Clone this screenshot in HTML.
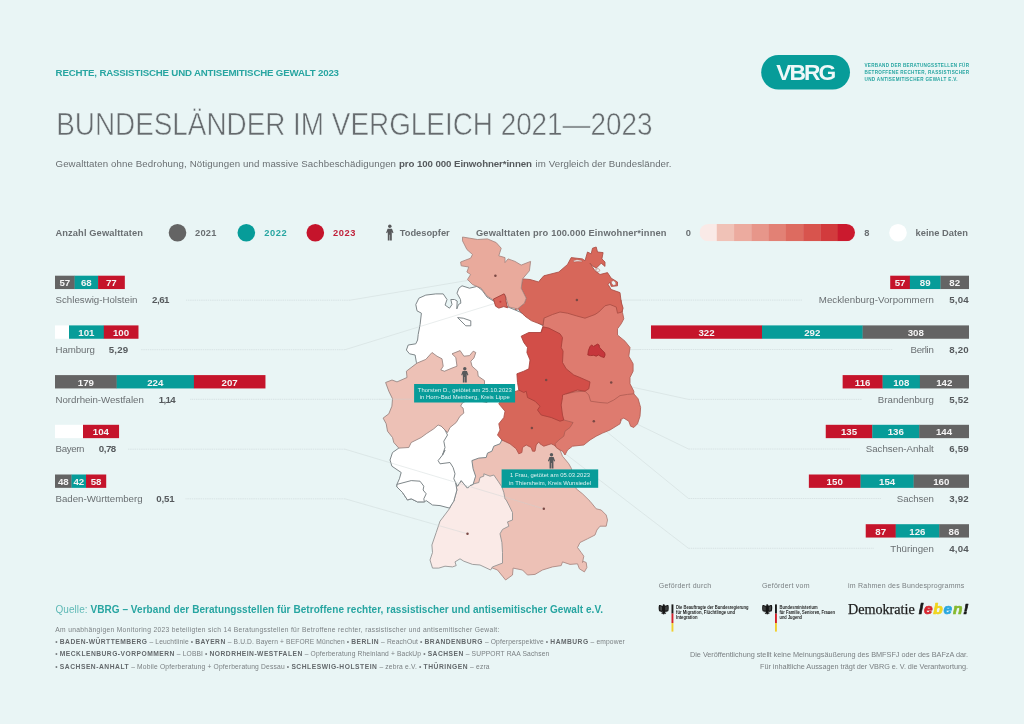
<!DOCTYPE html>
<html lang="de">
<head>
<meta charset="utf-8">
<title>Bundesländer im Vergleich 2021—2023</title>
<style>
html,body{margin:0;padding:0;background:#e9f5f5;}
body{width:1024px;height:724px;overflow:hidden;font-family:'Liberation Sans', sans-serif;}
svg{display:block;font-family:'Liberation Sans', sans-serif;}
text{white-space:pre;}
</style>
</head>
<body>
<svg width="1024" height="724" viewBox="0 0 1024 724">
<rect width="1024" height="724" fill="#e9f5f5"/>
<text x="55.60" y="75.90" font-size="9.7" font-weight="700" fill="#27a5a1" textLength="283.40" lengthAdjust="spacing">RECHTE, RASSISTISCHE UND ANTISEMITISCHE GEWALT 2023</text>
<text x="56.20" y="135.00" font-size="30.5" font-weight="400" fill="#666b6e" textLength="596.30" lengthAdjust="spacingAndGlyphs" stroke="#e9f5f5" stroke-width="0.55">BUNDESLÄNDER IM VERGLEICH 2021—2023</text>
<text x="55.50" y="167.00" font-size="9.7" font-weight="400" fill="#6a6f72" textLength="340.50" lengthAdjust="spacing">Gewalttaten ohne Bedrohung, Nötigungen und massive Sachbeschädigungen</text>
<text x="399.00" y="167.00" font-size="9.7" font-weight="700" fill="#565a5d" textLength="133.00" lengthAdjust="spacing">pro 100 000 Einwohner*innen</text>
<text x="535.60" y="167.00" font-size="9.7" font-weight="400" fill="#6a6f72" textLength="135.90" lengthAdjust="spacing">im Vergleich der Bundesländer.</text>
<rect x="761.2" y="55" width="88.8" height="34.5" rx="17.25" fill="#079c99"/>
<text x="776.30" y="80.40" font-size="22.8" font-weight="700" fill="#eef8f8" textLength="60.00" lengthAdjust="spacing">VBRG</text>
<text x="864.50" y="67.00" font-size="4.6" font-weight="700" fill="#27a5a1" textLength="104.50" lengthAdjust="spacing">VERBAND DER BERATUNGSSTELLEN FÜR</text>
<text x="864.50" y="73.75" font-size="4.6" font-weight="700" fill="#27a5a1" textLength="104.50" lengthAdjust="spacing">BETROFFENE RECHTER, RASSISTISCHER</text>
<text x="864.50" y="80.50" font-size="4.6" font-weight="700" fill="#27a5a1" textLength="93.00" lengthAdjust="spacing">UND ANTISEMITISCHER GEWALT E.V.</text>
<text x="55.50" y="236.00" font-size="9.3" font-weight="700" fill="#6a6f72" textLength="87.50" lengthAdjust="spacing">Anzahl Gewalttaten</text>
<circle cx="177.5" cy="232.7" r="8.8" fill="#646464"/>
<text x="195.00" y="236.00" font-size="9.3" font-weight="700" fill="#6a6f72" textLength="21.30" lengthAdjust="spacing">2021</text>
<circle cx="246.3" cy="232.7" r="8.8" fill="#079c99"/>
<text x="264.20" y="236.00" font-size="9.3" font-weight="700" fill="#27a5a1" textLength="22.50" lengthAdjust="spacing">2022</text>
<circle cx="315.3" cy="232.7" r="8.8" fill="#c5142b"/>
<text x="333.00" y="236.00" font-size="9.3" font-weight="700" fill="#c0203a" textLength="22.50" lengthAdjust="spacing">2023</text>
<g transform="translate(389.80,224.50) scale(1.000)" fill="#58595b"><circle cx="0" cy="1.75" r="1.75"/><path d="M-2.2,4.2 L2.2,4.2 L3.7,8.3 L2.7,8.7 L2.0,6.9 L2.0,16 L0.25,16 L0.25,10.2 L-0.25,10.2 L-0.25,16 L-2.0,16 L-2.0,6.9 L-2.7,8.7 L-3.7,8.3 Z"/></g>
<text x="399.70" y="236.00" font-size="9.3" font-weight="700" fill="#6a6f72" textLength="50.00" lengthAdjust="spacing">Todesopfer</text>
<text x="476.00" y="236.00" font-size="9.3" font-weight="700" fill="#6a6f72" textLength="190.50" lengthAdjust="spacing">Gewalttaten pro 100.000 Einwohner*innen</text>
<text x="685.70" y="236.00" font-size="9.3" font-weight="700" fill="#6a6f72">0</text>
<clipPath id="gc"><rect x="699.5" y="224" width="155.5" height="17.2" rx="8.6"/></clipPath>
<g clip-path="url(#gc)">
<rect x="699.50" y="224" width="17.58" height="17.2" fill="#faeae7"/>
<rect x="716.78" y="224" width="17.58" height="17.2" fill="#f0c2b7"/>
<rect x="734.06" y="224" width="17.58" height="17.2" fill="#ecab9f"/>
<rect x="751.33" y="224" width="17.58" height="17.2" fill="#e7968a"/>
<rect x="768.61" y="224" width="17.58" height="17.2" fill="#e28175"/>
<rect x="785.89" y="224" width="17.58" height="17.2" fill="#dd6b60"/>
<rect x="803.17" y="224" width="17.58" height="17.2" fill="#d8544d"/>
<rect x="820.44" y="224" width="17.58" height="17.2" fill="#d23b3d"/>
<rect x="837.72" y="224" width="17.58" height="17.2" fill="#cb1a2e"/>
</g>
<text x="864.20" y="236.00" font-size="9.3" font-weight="700" fill="#6a6f72">8</text>
<circle cx="898" cy="232.7" r="8.8" fill="#ffffff"/>
<text x="915.50" y="236.00" font-size="9.3" font-weight="700" fill="#6a6f72" textLength="52.50" lengthAdjust="spacing">keine Daten</text>
<g id="map-light">
<path d="M473.8,483.8 466.0,470.0 468.0,452.0 500.0,425.0 545.0,432.0 560.0,440.0 560.0,450.0 562.5,456.2 568.8,463.8 571.2,468.1 576.2,488.8 582.5,493.8 590.0,501.2 596.2,508.8 601.2,510.0 606.2,515.0 607.5,520.0 606.2,526.2 600.0,526.2 596.9,530.0 595.0,535.0 587.5,538.8 580.0,542.5 577.5,547.5 581.2,552.5 583.8,556.2 582.5,562.5 583.1,561.2 586.2,562.5 586.9,567.5 584.4,571.9 579.4,568.8 577.5,563.8 570.0,564.4 562.5,561.9 561.2,565.6 552.5,566.9 542.5,570.0 535.0,574.4 527.5,575.0 522.5,570.0 513.1,568.1 512.5,575.0 505.6,580.0 502.5,576.2 497.5,570.0 491.2,567.5 492.5,566.9 496.0,560.0 490.0,520.0 480.0,495.0Z" fill="#edc1b6" stroke="#a8857f" stroke-width="0.85" stroke-linejoin="round"/>
<path d="M473.8,483.8 478.8,482.5 480.0,477.5 483.8,476.2 483.8,473.8 490.0,476.2 493.8,475.0 498.1,481.2 501.9,486.9 503.8,492.5 505.0,498.8 506.2,500.0 508.8,505.0 512.5,512.5 512.5,520.0 507.5,521.9 508.8,526.2 502.5,529.4 500.0,533.8 501.9,542.5 502.5,552.5 502.5,563.1 492.5,566.9 490.6,570.0 488.1,568.8 480.0,565.0 472.5,564.4 463.8,561.2 460.0,558.8 455.0,561.9 456.2,565.6 452.5,566.9 445.0,566.2 438.8,568.1 432.5,568.1 430.0,560.0 432.5,552.5 431.9,545.0 436.2,532.5 440.0,521.2 449.4,508.8 453.8,500.0 453.8,501.2 456.9,490.0 455.6,482.5 457.5,486.2 461.2,480.6 463.8,483.8 467.5,488.1 470.0,485.6 473.1,484.4Z" fill="#faeae7" stroke="#8f8f8f" stroke-width="0.85" stroke-linejoin="round"/>
<path d="M398.8,448.1 392.5,452.5 390.0,460.0 391.9,466.2 401.2,472.5 399.4,478.8 396.9,484.4 396.9,486.9 402.5,492.5 407.5,500.0 411.2,498.8 417.5,501.9 424.4,501.9 426.2,500.6 432.5,505.0 440.0,505.6 449.4,508.1 453.8,501.2 456.9,490.0 455.6,482.5 462.0,470.0 462.0,425.0 440.0,420.0 420.0,432.0 405.0,443.0Z" fill="#ffffff" stroke="#7f878a" stroke-width="1.0" stroke-linejoin="round"/>
<path d="M396.9,484.4 411.2,480.6 420.0,481.2 423.8,486.2 423.1,490.0 426.2,493.8 423.8,498.8 424.4,501.9 417.5,501.9 411.2,498.8 407.5,500.0 402.5,492.5 396.9,486.9Z" fill="#ffffff" stroke="#7f878a" stroke-width="1.0" stroke-linejoin="round"/>
<path d="M417.0,363.1 416.4,362.5 415.1,355.0 409.5,353.8 406.4,350.0 408.2,345.0 415.8,343.8 417.6,340.0 418.2,334.5 420.1,324.5 421.4,313.2 417.0,310.8 415.8,304.5 418.9,298.2 425.8,295.1 435.8,293.9 443.2,293.9 447.0,299.5 445.1,305.1 449.5,308.2 452.0,304.5 450.8,299.5 454.5,299.5 457.2,301.0 456.8,308.9 458.5,304.5 460.8,303.2 460.5,299.5 457.0,293.2 458.9,288.2 462.0,285.8 469.5,288.2 477.0,286.4 482.0,290.1 487.0,297.0 493.2,300.8 520.0,312.0 550.0,330.0 560.0,400.0 515.0,410.0 498.5,404.0 470.0,405.0 470.0,390.0 450.0,372.0 420.0,370.0Z" fill="#ffffff" stroke="#7f878a" stroke-width="1.0" stroke-linejoin="round"/>
<path d="M445.0,430.0 447.5,435.0 443.8,441.2 445.0,447.5 442.5,455.0 445.0,450.0 442.5,455.0 438.1,460.6 440.0,463.8 450.0,462.5 453.1,467.5 455.0,473.8 453.8,478.8 455.6,482.5 457.5,486.2 461.2,480.6 463.8,483.8 467.5,488.1 470.0,485.6 473.1,484.4 475.6,476.2 473.1,468.8 471.9,460.6 478.8,458.1 486.2,457.5 487.5,453.1 491.9,451.2 493.8,446.2 500.0,443.8 501.9,440.0 512.0,436.0 512.0,400.0 500.0,392.0 470.0,392.0 455.0,400.0 440.0,425.0Z" fill="#ffffff" stroke="#7f878a" stroke-width="1.0" stroke-linejoin="round"/>
<path d="M385.6,382.5 392.0,380.0 397.0,381.9 407.0,377.5 406.4,371.2 417.0,363.1 425.8,359.4 432.0,352.5 437.0,356.2 442.0,358.8 443.2,366.2 440.8,370.0 444.5,371.2 452.0,368.1 457.0,366.2 455.8,357.5 452.0,353.8 460.1,350.6 463.9,356.2 469.5,355.6 473.2,351.2 475.8,352.5 473.9,358.1 470.8,361.2 472.0,366.2 477.6,371.2 478.2,376.2 484.5,380.6 484.5,384.0 486.0,390.0 489.0,399.0 487.0,402.5 470.0,399.0 462.5,402.8 460.6,406.2 463.1,408.1 463.8,413.1 460.0,416.2 456.2,422.5 450.0,427.5 447.5,432.5 445.0,430.0 441.2,426.2 438.1,425.0 433.8,428.8 426.2,433.8 421.2,437.5 411.2,442.5 408.8,447.5 398.8,448.1 393.8,442.5 392.5,437.5 387.5,431.2 386.2,423.8 383.1,418.1 388.8,413.8 391.9,406.2 392.5,398.8 388.8,391.2Z" fill="#edc1b6" stroke="#96827e" stroke-width="0.85" stroke-linejoin="round"/>
<path d="M457.6,317.6 463.2,318.2 470.8,320.8 470.8,325.8 465.8,325.8 462.0,322.0Z" fill="#ffffff" stroke="#7f878a" stroke-width="1.0" stroke-linejoin="round"/>
</g>
<path d="M495.4,275.8 L350.0,300.2" fill="none" stroke="#c8d2d2" stroke-width="1" stroke-opacity="0.4"/>
<path d="M350.0,300.2 L186.0,300.2" fill="none" stroke="#d3dedf" stroke-width="0.8" stroke-dasharray="1.4 0.8"/>
<path d="M500.4,301.7 L345.0,349.7" fill="none" stroke="#c8d2d2" stroke-width="1" stroke-opacity="0.4"/>
<path d="M345.0,349.7 L141.0,349.7" fill="none" stroke="#d3dedf" stroke-width="0.8" stroke-dasharray="1.4 0.8"/>
<path d="M440.0,399.0 L380.0,399.3" fill="none" stroke="#c8d2d2" stroke-width="1" stroke-opacity="0.4"/>
<path d="M380.0,399.3 L190.0,399.3" fill="none" stroke="#d3dedf" stroke-width="0.8" stroke-dasharray="1.4 0.8"/>
<path d="M543.8,508.8 L345.0,449.2" fill="none" stroke="#c8d2d2" stroke-width="1" stroke-opacity="0.4"/>
<path d="M345.0,449.2 L127.5,449.2" fill="none" stroke="#d3dedf" stroke-width="0.8" stroke-dasharray="1.4 0.8"/>
<path d="M467.5,533.8 L345.0,498.8" fill="none" stroke="#c8d2d2" stroke-width="1" stroke-opacity="0.4"/>
<path d="M345.0,498.8 L185.5,498.8" fill="none" stroke="#d3dedf" stroke-width="0.8" stroke-dasharray="1.4 0.8"/>
<path d="M576.9,300.1 L640.0,300.1" fill="none" stroke="#c8d2d2" stroke-width="1" stroke-opacity="0.4"/>
<path d="M640.0,300.1 L802.0,300.1" fill="none" stroke="#d3dedf" stroke-width="0.8" stroke-dasharray="1.4 0.8"/>
<path d="M597.0,350.0 L640.0,349.5" fill="none" stroke="#c8d2d2" stroke-width="1" stroke-opacity="0.4"/>
<path d="M640.0,349.5 L893.0,349.5" fill="none" stroke="#d3dedf" stroke-width="0.8" stroke-dasharray="1.4 0.8"/>
<path d="M611.2,382.5 L688.5,399.4" fill="none" stroke="#c8d2d2" stroke-width="1" stroke-opacity="0.4"/>
<path d="M688.5,399.4 L862.0,399.4" fill="none" stroke="#d3dedf" stroke-width="0.8" stroke-dasharray="1.4 0.8"/>
<path d="M546.2,380.0 L688.5,449.0" fill="none" stroke="#c8d2d2" stroke-width="1" stroke-opacity="0.4"/>
<path d="M688.5,449.0 L850.0,449.0" fill="none" stroke="#d3dedf" stroke-width="0.8" stroke-dasharray="1.4 0.8"/>
<path d="M593.8,421.2 L688.5,498.5" fill="none" stroke="#c8d2d2" stroke-width="1" stroke-opacity="0.4"/>
<path d="M688.5,498.5 L881.0,498.5" fill="none" stroke="#d3dedf" stroke-width="0.8" stroke-dasharray="1.4 0.8"/>
<path d="M531.9,428.1 L688.5,548.3" fill="none" stroke="#c8d2d2" stroke-width="1" stroke-opacity="0.4"/>
<path d="M688.5,548.3 L874.0,548.3" fill="none" stroke="#d3dedf" stroke-width="0.8" stroke-dasharray="1.4 0.8"/>
<g id="map-dark">
<path d="M517.0,391.0 510.0,393.0 503.0,397.0 498.8,403.8 505.0,411.2 503.8,417.5 498.8,423.8 500.0,430.0 497.5,435.0 501.9,440.0 510.0,443.8 516.2,448.8 518.8,453.8 521.9,452.5 522.5,447.5 526.2,445.0 531.2,447.5 532.5,451.2 535.0,451.2 536.2,445.0 538.8,441.9 540.0,443.8 543.8,446.2 551.2,443.8 553.8,445.0 560.0,450.0 575.0,430.0 570.0,415.0 560.0,400.0 530.0,385.0Z" fill="#d7675a" stroke="#ad5249" stroke-width="0.85" stroke-linejoin="round"/>
<path d="M563.8,420.0 573.1,422.5 570.0,427.5 565.0,431.2 563.8,436.2 558.8,440.0 555.0,443.8 556.2,447.5 560.0,450.0 562.5,451.2 565.0,455.0 567.5,450.0 572.5,446.2 583.8,445.0 590.0,440.0 596.2,436.2 602.5,433.1 610.0,430.0 620.0,423.8 621.2,420.0 620.0,420.0 623.8,418.1 628.8,421.2 630.6,426.2 633.8,427.5 637.5,423.8 640.0,416.2 640.6,407.5 638.1,398.8 633.8,393.8 630.0,385.0 590.0,385.0 560.0,390.0 555.0,410.0Z" fill="#de7b6f" stroke="#b05d54" stroke-width="0.85" stroke-linejoin="round"/>
<path d="M633.8,393.8 627.5,394.4 620.0,395.6 613.8,400.0 607.5,403.1 600.0,402.5 590.6,401.2 588.8,395.0 585.0,391.2 575.0,391.9 566.2,393.8 555.0,385.0 550.0,345.0 540.0,335.0 543.0,326.0 545.0,312.0 600.0,295.0 621.0,300.0 622.5,312.5 623.8,318.8 621.2,323.8 617.5,328.8 617.5,335.0 625.0,341.2 630.0,347.5 628.8,356.2 633.1,363.8 633.1,371.2 630.0,377.5 630.0,383.8 633.8,391.2Z" fill="#de7b6f" stroke="#b05d54" stroke-width="0.85" stroke-linejoin="round"/>
<path d="M543.1,326.9 548.8,328.1 560.0,333.8 562.5,337.5 561.2,347.5 563.1,351.2 562.5,362.5 566.2,368.8 573.8,375.0 580.0,377.5 590.0,381.9 588.8,388.8 585.0,391.2 577.5,390.0 570.0,392.5 562.5,395.0 562.5,397.5 561.2,405.0 562.5,415.0 563.8,420.0 560.0,421.2 551.2,417.5 541.2,415.0 537.5,410.0 540.0,406.2 535.0,401.2 527.5,397.5 526.2,391.2 523.8,392.5 518.8,390.0 517.5,382.5 516.9,373.8 523.8,371.2 528.8,368.8 530.0,360.0 526.9,352.5 527.5,347.5 523.8,342.5 521.2,336.2 528.8,332.5 541.2,332.5Z" fill="#d24e48" stroke="#a8403a" stroke-width="0.85" stroke-linejoin="round"/>
<path d="M515.0,309.4 517.5,307.5 520.0,311.2 525.0,316.2 531.2,320.6 537.5,323.1 543.1,325.0 543.8,318.2 552.5,314.5 560.0,312.0 567.5,313.2 576.2,315.8 585.0,318.2 595.0,314.5 598.8,312.0 605.0,305.8 610.0,304.5 616.2,307.0 617.5,313.2 621.9,312.0 623.1,308.2 621.2,302.0 620.0,292.6 611.2,289.5 608.1,284.5 610.0,282.0 611.2,286.4 617.5,285.8 617.5,282.0 611.2,278.2 607.5,272.6 600.0,274.5 595.0,270.8 590.0,263.2 592.5,265.8 596.2,268.2 601.2,263.2 605.0,266.4 605.0,262.0 601.9,258.9 603.1,252.6 597.5,252.0 596.2,247.0 592.5,248.2 591.2,253.9 587.5,252.0 585.0,260.8 582.5,258.9 571.2,257.6 567.5,264.5 558.8,272.0 543.8,275.8 540.0,280.1 538.8,282.0 530.0,279.5 522.5,278.9 521.2,288.2 526.2,298.2 524.4,303.2 517.5,308.9Z" fill="#d7675a" stroke="#aa4e45" stroke-width="0.85" stroke-linejoin="round"/>
<path d="M462.5,237.0 477.5,239.5 487.5,238.9 496.2,242.6 501.2,248.2 498.8,255.8 505.0,257.6 505.0,262.6 508.1,258.9 515.0,261.4 521.2,265.1 530.6,261.4 529.4,270.8 522.5,278.9 521.2,288.2 526.2,298.2 524.4,303.2 517.5,308.9 508.8,307.0 505.0,294.5 493.8,300.1 492.5,299.5 486.9,295.8 481.2,288.2 472.5,284.5 467.5,279.5 470.6,274.5 466.9,272.0 468.8,267.0 461.2,265.8 460.6,262.0 470.6,258.2 472.5,254.5 466.9,249.5 462.5,240.8Z" fill="#e9aa9c" stroke="#a8857f" stroke-width="0.85" stroke-linejoin="round"/>
<path d="M493.4,299.1 504.1,293.8 505.6,296.9 505.9,300.6 507.5,307.8 503.8,306.6 498.8,308.1 495.6,306.2Z" fill="#d86459" stroke="#a03e37" stroke-width="0.85" stroke-linejoin="round"/>
<path d="M587.8,355.0 588.4,350.6 590.0,346.6 591.6,344.9 593.4,346.4 595.0,345.6 597.5,344.1 599.1,345.0 599.4,347.2 601.9,350.0 604.7,352.8 605.1,355.0 604.1,357.5 601.2,356.6 598.4,355.0 596.2,356.2 593.8,355.3 590.6,355.6Z" fill="#c6363c" stroke="#a02c2c" stroke-width="0.85" stroke-linejoin="round"/>
</g>
<path d="M573.3,260.6 L577,259.8 L581.8,260.4 L582.2,261.8 L577.5,261.6 L573.8,262Z" fill="#e9f5f5" stroke="#aa4e45" stroke-width="0.5"/>
<path d="M595.8,269.2 L598.2,268.6 L600,270.2 L598.6,272 L596.2,271.6Z" fill="#e9f5f5" stroke="#aa4e45" stroke-width="0.5"/>
<path d="M611.2,281.6 L613.4,280.6 L615.6,282 L616,284.8 L613.6,285.4 L611.8,284Z" fill="#e9f5f5" stroke="#aa4e45" stroke-width="0.5"/>
<circle cx="495.4" cy="275.8" r="1.25" fill="#7a4844"/>
<circle cx="500.4" cy="301.7" r="1" fill="#c23a3c"/>
<circle cx="576.9" cy="300.1" r="1.25" fill="#7a4844"/>
<circle cx="611.2" cy="382.5" r="1.25" fill="#7a4844"/>
<circle cx="546.2" cy="380.0" r="1.25" fill="#7a4844"/>
<circle cx="593.8" cy="421.2" r="1.25" fill="#7a4844"/>
<circle cx="531.9" cy="428.1" r="1.25" fill="#7a4844"/>
<circle cx="543.8" cy="508.8" r="1.25" fill="#7a4844"/>
<circle cx="467.5" cy="533.8" r="1.25" fill="#7a4844"/>
<g transform="translate(464.80,367.00) scale(0.969)" fill="#58595b"><circle cx="0" cy="1.75" r="1.75"/><path d="M-2.2,4.2 L2.2,4.2 L3.7,8.3 L2.7,8.7 L2.0,6.9 L2.0,16 L0.25,16 L0.25,10.2 L-0.25,10.2 L-0.25,16 L-2.0,16 L-2.0,6.9 L-2.7,8.7 L-3.7,8.3 Z"/></g>
<rect x="414.1" y="384" width="101" height="18.5" fill="#079c99"/>
<text x="464.80" y="391.90" font-size="5.9" font-weight="400" fill="#dff2f2" textLength="94.00" lengthAdjust="spacing" text-anchor="middle">Thorsten D., getötet am 25.10.2023</text>
<text x="464.80" y="399.20" font-size="5.9" font-weight="400" fill="#dff2f2" textLength="90.00" lengthAdjust="spacing" text-anchor="middle">in Horn-Bad Meinberg, Kreis Lippe</text>
<g transform="translate(551.50,453.00) scale(0.969)" fill="#58595b"><circle cx="0" cy="1.75" r="1.75"/><path d="M-2.2,4.2 L2.2,4.2 L3.7,8.3 L2.7,8.7 L2.0,6.9 L2.0,16 L0.25,16 L0.25,10.2 L-0.25,10.2 L-0.25,16 L-2.0,16 L-2.0,6.9 L-2.7,8.7 L-3.7,8.3 Z"/></g>
<rect x="501.6" y="469.4" width="96.6" height="18.4" fill="#079c99"/>
<text x="550.00" y="477.20" font-size="5.9" font-weight="400" fill="#dff2f2" textLength="80.00" lengthAdjust="spacing" text-anchor="middle">1 Frau, getötet am 05.03.2023</text>
<text x="550.00" y="484.60" font-size="5.9" font-weight="400" fill="#dff2f2" textLength="82.00" lengthAdjust="spacing" text-anchor="middle">in Thiersheim, Kreis Wunsiedel</text>
<rect x="55.00" y="275.70" width="19.85" height="13.35" fill="#646464"/>
<text x="64.82" y="286.15" font-size="9.7" font-weight="700" fill="#f4f4f4" text-anchor="middle">57</text>
<rect x="74.65" y="275.70" width="23.64" height="13.35" fill="#079c99"/>
<text x="86.37" y="286.15" font-size="9.7" font-weight="700" fill="#f4f4f4" text-anchor="middle">68</text>
<rect x="98.09" y="275.70" width="26.74" height="13.35" fill="#c5142b"/>
<text x="111.36" y="286.15" font-size="9.7" font-weight="700" fill="#f4f4f4" text-anchor="middle">77</text>
<text x="55.50" y="303.10" font-size="9.7" font-weight="400" fill="#6a6f72" textLength="82.00" lengthAdjust="spacing">Schleswig-Holstein</text>
<text x="152.00" y="303.10" font-size="9.7" font-weight="700" fill="#565a5d" textLength="17.50" lengthAdjust="spacing">2,61</text>
<rect x="55.00" y="325.40" width="14.20" height="13.35" fill="#ffffff"/>
<rect x="69.00" y="325.40" width="35.01" height="13.35" fill="#079c99"/>
<text x="86.41" y="335.85" font-size="9.7" font-weight="700" fill="#f4f4f4" text-anchor="middle">101</text>
<rect x="103.81" y="325.40" width="34.67" height="13.35" fill="#c5142b"/>
<text x="121.05" y="335.85" font-size="9.7" font-weight="700" fill="#f4f4f4" text-anchor="middle">100</text>
<text x="55.50" y="352.80" font-size="9.7" font-weight="400" fill="#6a6f72" textLength="39.50" lengthAdjust="spacing">Hamburg</text>
<text x="108.75" y="352.80" font-size="9.7" font-weight="700" fill="#565a5d" textLength="19.30" lengthAdjust="spacing">5,29</text>
<rect x="55.00" y="375.10" width="61.90" height="13.35" fill="#646464"/>
<text x="85.85" y="385.55" font-size="9.7" font-weight="700" fill="#f4f4f4" text-anchor="middle">179</text>
<rect x="116.70" y="375.10" width="77.41" height="13.35" fill="#079c99"/>
<text x="155.31" y="385.55" font-size="9.7" font-weight="700" fill="#f4f4f4" text-anchor="middle">224</text>
<rect x="193.91" y="375.10" width="71.55" height="13.35" fill="#c5142b"/>
<text x="229.59" y="385.55" font-size="9.7" font-weight="700" fill="#f4f4f4" text-anchor="middle">207</text>
<text x="55.50" y="402.50" font-size="9.7" font-weight="400" fill="#6a6f72" textLength="88.30" lengthAdjust="spacing">Nordrhein-Westfalen</text>
<text x="158.75" y="402.50" font-size="9.7" font-weight="700" fill="#565a5d" textLength="16.80" lengthAdjust="spacing">1,14</text>
<rect x="55.00" y="424.80" width="14.20" height="13.35" fill="#ffffff"/>
<rect x="69.00" y="424.80" width="14.20" height="13.35" fill="#ffffff"/>
<rect x="83.00" y="424.80" width="36.05" height="13.35" fill="#c5142b"/>
<text x="100.92" y="435.25" font-size="9.7" font-weight="700" fill="#f4f4f4" text-anchor="middle">104</text>
<text x="55.50" y="452.20" font-size="9.7" font-weight="400" fill="#6a6f72" textLength="29.00" lengthAdjust="spacing">Bayern</text>
<text x="98.75" y="452.20" font-size="9.7" font-weight="700" fill="#565a5d" textLength="17.50" lengthAdjust="spacing">0,78</text>
<rect x="55.00" y="474.50" width="16.75" height="13.35" fill="#646464"/>
<text x="63.27" y="484.95" font-size="9.7" font-weight="700" fill="#f4f4f4" text-anchor="middle">48</text>
<rect x="71.55" y="474.50" width="14.68" height="13.35" fill="#079c99"/>
<text x="78.78" y="484.95" font-size="9.7" font-weight="700" fill="#f4f4f4" text-anchor="middle">42</text>
<rect x="86.02" y="474.50" width="20.19" height="13.35" fill="#c5142b"/>
<text x="96.02" y="484.95" font-size="9.7" font-weight="700" fill="#f4f4f4" text-anchor="middle">58</text>
<text x="55.50" y="501.90" font-size="9.7" font-weight="400" fill="#6a6f72" textLength="87.10" lengthAdjust="spacing">Baden-Württemberg</text>
<text x="156.25" y="501.90" font-size="9.7" font-weight="700" fill="#565a5d" textLength="18.40" lengthAdjust="spacing">0,51</text>
<rect x="890.21" y="275.70" width="19.85" height="13.35" fill="#c5142b"/>
<text x="900.03" y="286.15" font-size="9.7" font-weight="700" fill="#f4f4f4" text-anchor="middle">57</text>
<rect x="909.86" y="275.70" width="30.88" height="13.35" fill="#079c99"/>
<text x="925.20" y="286.15" font-size="9.7" font-weight="700" fill="#f4f4f4" text-anchor="middle">89</text>
<rect x="940.53" y="275.70" width="28.47" height="13.35" fill="#646464"/>
<text x="954.67" y="286.15" font-size="9.7" font-weight="700" fill="#f4f4f4" text-anchor="middle">82</text>
<text x="933.80" y="303.10" font-size="9.7" font-weight="400" fill="#6a6f72" textLength="115.00" lengthAdjust="spacing" text-anchor="end">Mecklenburg-Vorpommern</text>
<text x="968.60" y="303.10" font-size="9.7" font-weight="700" fill="#565a5d" textLength="19.30" lengthAdjust="spacing" text-anchor="end">5,04</text>
<rect x="650.99" y="325.40" width="111.19" height="13.35" fill="#c5142b"/>
<text x="706.48" y="335.85" font-size="9.7" font-weight="700" fill="#f4f4f4" text-anchor="middle">322</text>
<rect x="761.98" y="325.40" width="100.85" height="13.35" fill="#079c99"/>
<text x="812.31" y="335.85" font-size="9.7" font-weight="700" fill="#f4f4f4" text-anchor="middle">292</text>
<rect x="862.63" y="325.40" width="106.37" height="13.35" fill="#646464"/>
<text x="915.72" y="335.85" font-size="9.7" font-weight="700" fill="#f4f4f4" text-anchor="middle">308</text>
<text x="933.80" y="352.80" font-size="9.7" font-weight="400" fill="#6a6f72" textLength="23.30" lengthAdjust="spacing" text-anchor="end">Berlin</text>
<text x="968.60" y="352.80" font-size="9.7" font-weight="700" fill="#565a5d" textLength="19.30" lengthAdjust="spacing" text-anchor="end">8,20</text>
<rect x="842.64" y="375.10" width="40.19" height="13.35" fill="#c5142b"/>
<text x="862.63" y="385.55" font-size="9.7" font-weight="700" fill="#f4f4f4" text-anchor="middle">116</text>
<rect x="882.62" y="375.10" width="37.43" height="13.35" fill="#079c99"/>
<text x="901.24" y="385.55" font-size="9.7" font-weight="700" fill="#f4f4f4" text-anchor="middle">108</text>
<rect x="919.85" y="375.10" width="49.15" height="13.35" fill="#646464"/>
<text x="944.33" y="385.55" font-size="9.7" font-weight="700" fill="#f4f4f4" text-anchor="middle">142</text>
<text x="933.80" y="402.50" font-size="9.7" font-weight="400" fill="#6a6f72" textLength="56.00" lengthAdjust="spacing" text-anchor="end">Brandenburg</text>
<text x="968.60" y="402.50" font-size="9.7" font-weight="700" fill="#565a5d" textLength="19.30" lengthAdjust="spacing" text-anchor="end">5,52</text>
<rect x="825.75" y="424.80" width="46.73" height="13.35" fill="#c5142b"/>
<text x="849.02" y="435.25" font-size="9.7" font-weight="700" fill="#f4f4f4" text-anchor="middle">135</text>
<rect x="872.28" y="424.80" width="47.08" height="13.35" fill="#079c99"/>
<text x="895.72" y="435.25" font-size="9.7" font-weight="700" fill="#f4f4f4" text-anchor="middle">136</text>
<rect x="919.16" y="424.80" width="49.84" height="13.35" fill="#646464"/>
<text x="943.98" y="435.25" font-size="9.7" font-weight="700" fill="#f4f4f4" text-anchor="middle">144</text>
<text x="933.80" y="452.20" font-size="9.7" font-weight="400" fill="#6a6f72" textLength="68.00" lengthAdjust="spacing" text-anchor="end">Sachsen-Anhalt</text>
<text x="968.60" y="452.20" font-size="9.7" font-weight="700" fill="#565a5d" textLength="19.30" lengthAdjust="spacing" text-anchor="end">6,59</text>
<rect x="808.86" y="474.50" width="51.91" height="13.35" fill="#c5142b"/>
<text x="834.71" y="484.95" font-size="9.7" font-weight="700" fill="#f4f4f4" text-anchor="middle">150</text>
<rect x="860.56" y="474.50" width="53.28" height="13.35" fill="#079c99"/>
<text x="887.11" y="484.95" font-size="9.7" font-weight="700" fill="#f4f4f4" text-anchor="middle">154</text>
<rect x="913.65" y="474.50" width="55.35" height="13.35" fill="#646464"/>
<text x="941.22" y="484.95" font-size="9.7" font-weight="700" fill="#f4f4f4" text-anchor="middle">160</text>
<text x="933.80" y="501.90" font-size="9.7" font-weight="400" fill="#6a6f72" textLength="37.00" lengthAdjust="spacing" text-anchor="end">Sachsen</text>
<text x="968.60" y="501.90" font-size="9.7" font-weight="700" fill="#565a5d" textLength="19.30" lengthAdjust="spacing" text-anchor="end">3,92</text>
<rect x="865.73" y="524.20" width="30.19" height="13.35" fill="#c5142b"/>
<text x="880.73" y="534.65" font-size="9.7" font-weight="700" fill="#f4f4f4" text-anchor="middle">87</text>
<rect x="895.72" y="524.20" width="43.63" height="13.35" fill="#079c99"/>
<text x="917.44" y="534.65" font-size="9.7" font-weight="700" fill="#f4f4f4" text-anchor="middle">126</text>
<rect x="939.16" y="524.20" width="29.84" height="13.35" fill="#646464"/>
<text x="953.98" y="534.65" font-size="9.7" font-weight="700" fill="#f4f4f4" text-anchor="middle">86</text>
<text x="933.80" y="551.60" font-size="9.7" font-weight="400" fill="#6a6f72" textLength="43.50" lengthAdjust="spacing" text-anchor="end">Thüringen</text>
<text x="968.60" y="551.60" font-size="9.7" font-weight="700" fill="#565a5d" textLength="19.30" lengthAdjust="spacing" text-anchor="end">4,04</text>
<text x="55.5" y="612.9" font-size="10" fill="#27a5a1" textLength="547.5" lengthAdjust="spacing"><tspan font-weight="400" fill="#5fb9b6">Quelle: </tspan><tspan font-weight="700">VBRG – Verband der Beratungsstellen für Betroffene rechter, rassistischer und antisemitischer Gewalt e.V.</tspan></text>
<text x="55.3" y="632.00" font-size="6.7" fill="#7b8083" textLength="444" lengthAdjust="spacing">Am unabhängigen Monitoring 2023 beteiligten sich 14 Beratungsstellen für Betroffene rechter, rassistischer und antisemitischer Gewalt:</text>
<text x="55.3" y="644.17" font-size="6.7" fill="#7b8083" textLength="569.5" lengthAdjust="spacing">• <tspan font-weight="700" fill="#63686b" letter-spacing="0.35">BADEN-WÜRTTEMBERG</tspan> – Leuchtlinie • <tspan font-weight="700" fill="#63686b" letter-spacing="0.35">BAYERN</tspan> – B.U.D. Bayern + BEFORE München • <tspan font-weight="700" fill="#63686b" letter-spacing="0.35">BERLIN</tspan> – ReachOut • <tspan font-weight="700" fill="#63686b" letter-spacing="0.35">BRANDENBURG</tspan> – Opferperspektive • <tspan font-weight="700" fill="#63686b" letter-spacing="0.35">HAMBURG</tspan> – empower</text>
<text x="55.3" y="656.34" font-size="6.7" fill="#7b8083" textLength="494" lengthAdjust="spacing">• <tspan font-weight="700" fill="#63686b" letter-spacing="0.35">MECKLENBURG-VORPOMMERN</tspan> – LOBBI • <tspan font-weight="700" fill="#63686b" letter-spacing="0.35">NORDRHEIN-WESTFALEN</tspan> – Opferberatung Rheinland + BackUp • <tspan font-weight="700" fill="#63686b" letter-spacing="0.35">SACHSEN</tspan> – SUPPORT RAA Sachsen</text>
<text x="55.3" y="668.51" font-size="6.7" fill="#7b8083" textLength="434.3" lengthAdjust="spacing">• <tspan font-weight="700" fill="#63686b" letter-spacing="0.35">SACHSEN-ANHALT</tspan> – Mobile Opferberatung + Opferberatung Dessau • <tspan font-weight="700" fill="#63686b" letter-spacing="0.35">SCHLESWIG-HOLSTEIN</tspan> – zebra e.V. • <tspan font-weight="700" fill="#63686b" letter-spacing="0.35">THÜRINGEN</tspan> – ezra</text>
<text x="658.80" y="587.90" font-size="7.0" font-weight="400" fill="#7b8083" textLength="52.30" lengthAdjust="spacing">Gefördert durch</text>
<text x="761.90" y="587.90" font-size="7.0" font-weight="400" fill="#7b8083" textLength="47.60" lengthAdjust="spacing">Gefördert vom</text>
<text x="848.00" y="587.90" font-size="7.0" font-weight="400" fill="#7b8083" textLength="116.30" lengthAdjust="spacing">im Rahmen des Bundesprogramms</text>
<text x="968.00" y="656.90" font-size="7.3" font-weight="400" fill="#7b8083" textLength="278.00" lengthAdjust="spacing" text-anchor="end">Die Veröffentlichung stellt keine Meinungsäußerung des BMFSFJ oder des BAFzA dar.</text>
<text x="968.00" y="668.90" font-size="7.3" font-weight="400" fill="#7b8083" textLength="208.00" lengthAdjust="spacing" text-anchor="end">Für inhaltliche Aussagen trägt der VBRG e. V. die Verantwortung.</text>
<g transform="translate(658.70,604.00) scale(0.5)" fill="#161616"><path d="M10,0.4 C11.2,0.4 12,1.2 12,2.2 L13.4,2.7 L12,3.4 C11.9,3.9 11.7,4.2 11.4,4.5 C13.5,3.4 16.5,2 19.2,2.2 C20.4,5 20.4,10.5 19.4,13.6 L18.2,15.6 L17.4,13.6 L16.6,16.6 L15.4,14.4 L14.6,17.4 L13.2,15.2 L12.4,16 L15,19.8 L13.3,19.4 L12.7,20.4 L11.5,17.8 L11.7,20.2 L10,21 L8.3,20.2 L8.5,17.8 L7.3,20.4 L6.7,19.4 L5,19.8 L7.6,16 L6.8,15.2 L5.4,17.4 L4.6,14.4 L3.4,16.6 L2.6,13.6 L1.8,15.6 L0.6,13.6 C-0.4,10.5 -0.4,5 0.8,2.2 C3.5,2 6.5,3.4 8.6,4.5 C8.3,4.2 8,3.6 8,2.4 C8,1.2 8.8,0.4 10,0.4Z"/><path d="M3.3,4.4 V12.6 M5.7,5.2 V13.2 M14.3,5.2 V13.2 M16.7,4.4 V12.6" stroke="#e9f5f5" stroke-width="0.5" fill="none"/></g>
<rect x="671.50" y="604.4" width="1.9" height="9.2" fill="#1a1a1a"/>
<rect x="671.50" y="613.6" width="1.9" height="9.4" fill="#d4202a"/>
<rect x="671.50" y="623" width="1.9" height="8.6" fill="#f2cf2e"/>
<text x="676.00" y="608.75" font-size="4.9" font-weight="700" fill="#1f1f1f" textLength="72.50" lengthAdjust="spacingAndGlyphs">Die Beauftragte der Bundesregierung</text>
<text x="676.00" y="613.95" font-size="4.9" font-weight="700" fill="#1f1f1f" textLength="59.00" lengthAdjust="spacingAndGlyphs">für Migration, Flüchtlinge und</text>
<text x="676.00" y="619.15" font-size="4.9" font-weight="700" fill="#1f1f1f" textLength="21.50" lengthAdjust="spacingAndGlyphs">Integration</text>
<g transform="translate(762.20,604.00) scale(0.5)" fill="#161616"><path d="M10,0.4 C11.2,0.4 12,1.2 12,2.2 L13.4,2.7 L12,3.4 C11.9,3.9 11.7,4.2 11.4,4.5 C13.5,3.4 16.5,2 19.2,2.2 C20.4,5 20.4,10.5 19.4,13.6 L18.2,15.6 L17.4,13.6 L16.6,16.6 L15.4,14.4 L14.6,17.4 L13.2,15.2 L12.4,16 L15,19.8 L13.3,19.4 L12.7,20.4 L11.5,17.8 L11.7,20.2 L10,21 L8.3,20.2 L8.5,17.8 L7.3,20.4 L6.7,19.4 L5,19.8 L7.6,16 L6.8,15.2 L5.4,17.4 L4.6,14.4 L3.4,16.6 L2.6,13.6 L1.8,15.6 L0.6,13.6 C-0.4,10.5 -0.4,5 0.8,2.2 C3.5,2 6.5,3.4 8.6,4.5 C8.3,4.2 8,3.6 8,2.4 C8,1.2 8.8,0.4 10,0.4Z"/><path d="M3.3,4.4 V12.6 M5.7,5.2 V13.2 M14.3,5.2 V13.2 M16.7,4.4 V12.6" stroke="#e9f5f5" stroke-width="0.5" fill="none"/></g>
<rect x="775.00" y="604.4" width="1.9" height="9.2" fill="#1a1a1a"/>
<rect x="775.00" y="613.6" width="1.9" height="9.4" fill="#d4202a"/>
<rect x="775.00" y="623" width="1.9" height="8.6" fill="#f2cf2e"/>
<text x="779.50" y="608.75" font-size="4.9" font-weight="700" fill="#1f1f1f" textLength="38.00" lengthAdjust="spacingAndGlyphs">Bundesministerium</text>
<text x="779.50" y="613.95" font-size="4.9" font-weight="700" fill="#1f1f1f" textLength="55.50" lengthAdjust="spacingAndGlyphs">für Familie, Senioren, Frauen</text>
<text x="779.50" y="619.15" font-size="4.9" font-weight="700" fill="#1f1f1f" textLength="22.50" lengthAdjust="spacingAndGlyphs">und Jugend</text>
<text x="848" y="614" font-size="14.2" font-family="'Liberation Serif', serif" fill="#1d1d1d" stroke="#1d1d1d" stroke-width="0.25" textLength="66.7" lengthAdjust="spacing">Demokratie</text>
<text x="918.8" y="614.2" font-size="15.5" font-weight="700" font-style="italic" stroke-width="0.7" stroke-linejoin="round" textLength="49.5" lengthAdjust="spacing"><tspan fill="#1a1a1a" stroke="#1a1a1a">l</tspan><tspan fill="#d7262f" stroke="#d7262f">e</tspan><tspan fill="#f0d51e" stroke="#f0d51e">b</tspan><tspan fill="#2aa7df" stroke="#2aa7df">e</tspan><tspan fill="#86b92f" stroke="#86b92f">n</tspan><tspan fill="#1a1a1a" stroke="#1a1a1a">!</tspan></text>
</svg>
</body>
</html>
